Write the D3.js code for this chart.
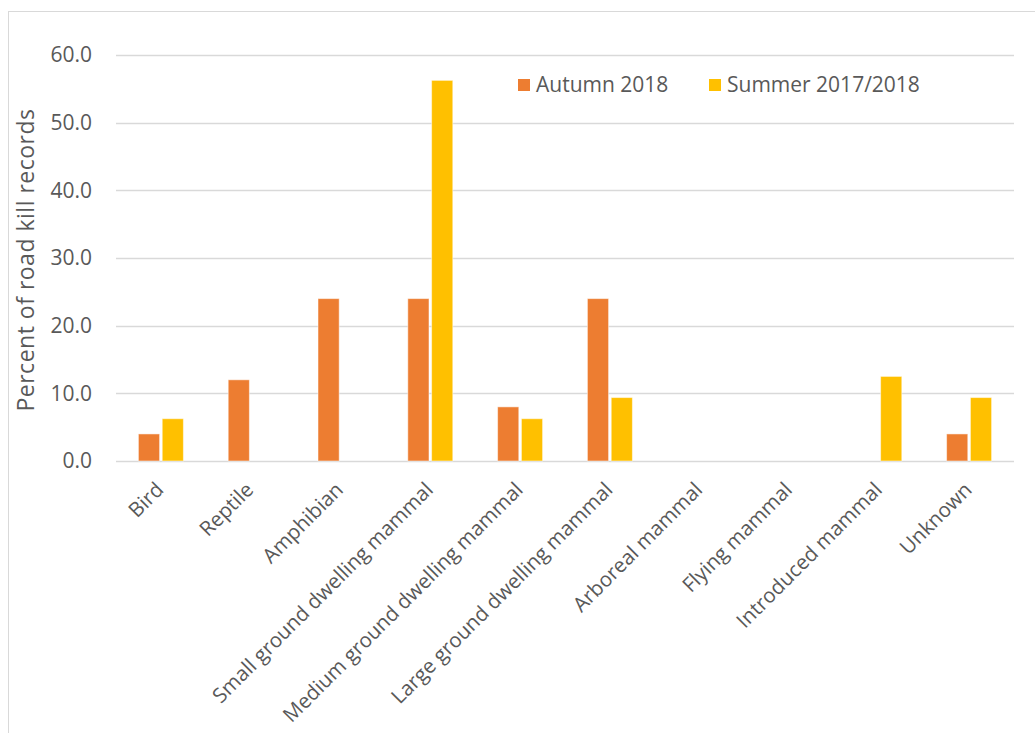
<!DOCTYPE html>
<html>
<head>
<meta charset="utf-8">
<script src="https://cdn.jsdelivr.net/npm/d3@7"></script>
<style>
  html, body { margin: 0; padding: 0; background: #fff; }
  svg text { font-family: "Open Sans", "Noto Sans", sans-serif; fill: #595959; }
</style>
</head>
<body>
<svg id="chart" width="1035" height="733"></svg>
<script>
// Road kill records by animal group, percent of records per survey season
const categories = [
  "Bird", "Reptile", "Amphibian", "Small ground dwelling mammal",
  "Medium ground dwelling mammal", "Large ground dwelling mammal",
  "Arboreal mammal", "Flying mammal", "Introduced mammal", "Unknown"
];
const seriesNames = ["Autumn 2018", "Summer 2017/2018"];
const autumn2018 = [4.0, 12.0, 24.0, 24.0, 8.0, 24.0, 0, 0, 0, 4.0];
const summer20172018 = [6.25, 0, 0, 56.25, 6.25, 9.375, 0, 0, 12.5, 9.375];
const yTicks = [0, 10, 20, 30, 40, 50, 60];
const yTitle = "Percent of road kill records";

const colors = ["#ED7D31", "#FFC000"];
const seriesValues = [autumn2018, summer20172018];

const svg = d3.select("#chart");

// outer chart frame
svg.append("rect")
  .attr("x", 8.5).attr("y", 11.5)
  .attr("width", 1100).attr("height", 800)
  .attr("fill", "none").attr("stroke", "#D9D9D9").attr("stroke-width", 1);

const plot = { left: 116, right: 1014, top: 55, bottom: 461 };

const x = d3.scaleBand().domain(categories).range([plot.left, plot.right]);
const y = d3.scaleLinear().domain([0, 60]).range([plot.bottom, plot.top]);
const inner = d3.scaleBand().domain(seriesNames).range([0, 45]).paddingInner(0.11);

// gridlines
svg.append("g")
  .selectAll("line")
  .data(yTicks)
  .join("line")
  .attr("x1", plot.left).attr("x2", plot.right)
  .attr("y1", d => Math.round(y(d)) + 0.5).attr("y2", d => Math.round(y(d)) + 0.5)
  .attr("stroke", "#D9D9D9").attr("stroke-width", 1.3);

// y axis labels
const yAxis = d3.axisLeft(y).tickValues(yTicks).tickFormat(d3.format(".1f")).tickSize(0).tickPadding(24);
const yg = svg.append("g").attr("transform", `translate(${plot.left},0)`).call(yAxis);
yg.select(".domain").remove();
yg.selectAll("text").attr("font-size", 21).style("font-family", '"Open Sans", sans-serif').attr("fill", "#595959");

// bars
const groupOffset = (x.bandwidth() - 45) / 2;
seriesValues.forEach((vals, si) => {
  svg.append("g")
    .selectAll("rect")
    .data(categories.map((c, i) => ({ c, v: vals[i] })).filter(d => d.v > 0))
    .join("rect")
    .attr("x", d => x(d.c) + groupOffset + inner(seriesNames[si]))
    .attr("width", inner.bandwidth())
    .attr("y", d => y(d.v))
    .attr("height", d => y(0) - y(d.v))
    .attr("fill", colors[si])
    .attr("stroke", "#fff").attr("stroke-opacity", 0.5).attr("stroke-width", 1);
});

// x axis labels, rotated
const xAxis = d3.axisBottom(x).tickSize(0).tickPadding(0);
const xg = svg.append("g").attr("transform", `translate(0,${plot.bottom})`).call(xAxis);
xg.select(".domain").remove();
xg.selectAll("text")
  .attr("font-size", 20.5)
  .style("font-family", '"Open Sans", sans-serif')
  .attr("fill", "#595959")
  .attr("text-anchor", "end")
  .attr("dy", null)
  .attr("y", 0)
  .attr("transform", "translate(4,30) rotate(-45)");

// y axis title
svg.append("text")
  .attr("transform", "translate(34,260) rotate(-90)")
  .attr("text-anchor", "middle")
  .attr("font-size", 23)
  .attr("letter-spacing", 0.5)
  .text(yTitle);

// legend
const legendX = [518, 709];
const legend = svg.append("g");
seriesNames.forEach((name, i) => {
  legend.append("rect")
    .attr("x", legendX[i]).attr("y", 79)
    .attr("width", 12).attr("height", 12)
    .attr("fill", colors[i]);
  legend.append("text")
    .attr("x", legendX[i] + 18).attr("y", 92)
    .attr("font-size", 21)
    .text(name);
});
</script>
</body>
</html>
